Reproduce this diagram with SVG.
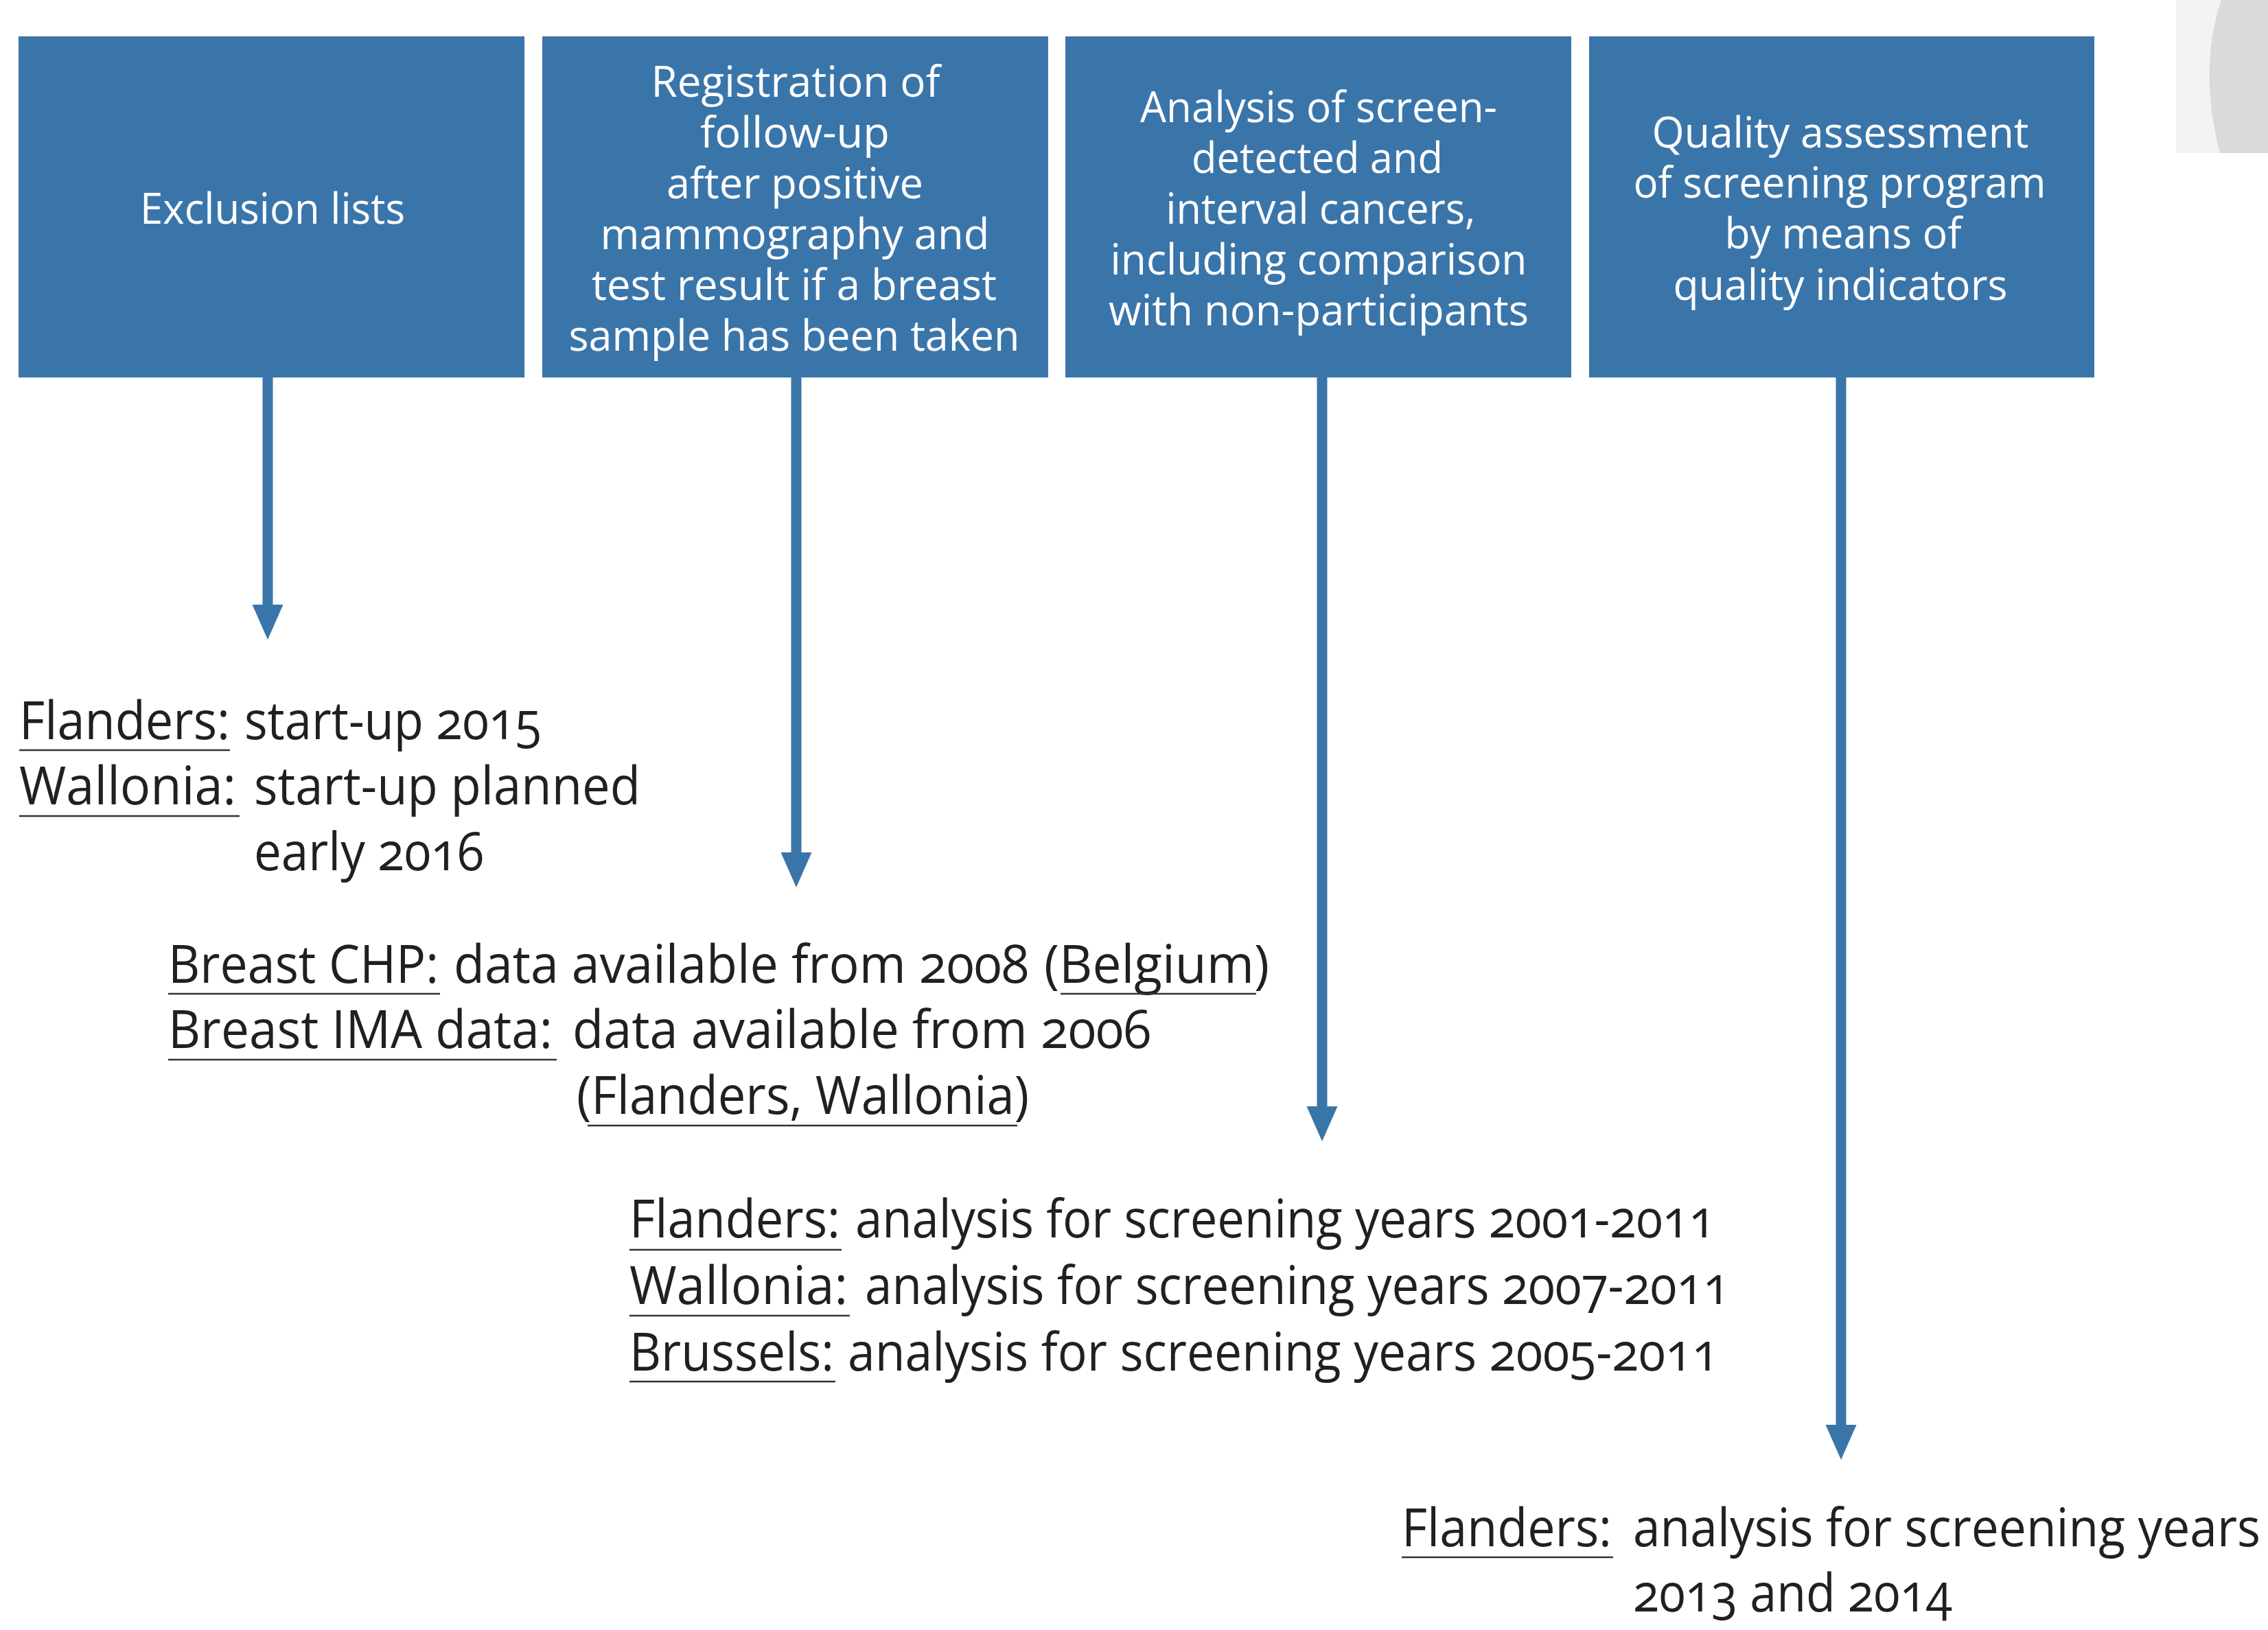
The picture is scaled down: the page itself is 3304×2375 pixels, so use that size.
<svg xmlns="http://www.w3.org/2000/svg" xmlns:xlink="http://www.w3.org/1999/xlink" width="3304" height="2375" viewBox="0 0 3304 2375">
<style>
.box{fill:#3a75aa}
.bt{font-family:"Open Sans","Noto Sans","Liberation Sans",sans-serif;font-size:63px;fill:#ffffff;text-anchor:middle}
.tx{font-family:"Open Sans","Noto Sans","Liberation Sans",sans-serif;font-size:77px;fill:#231f20;font-variant-numeric:oldstyle-nums;font-feature-settings:"onum" 1}
.ul{stroke:#333333;stroke-width:2.5}
.conn{stroke:#3a75aa;stroke-width:15;fill:none}
.head{fill:#3a75aa}
</style>
<defs>
<path id="ah" d="M-22.5,0 L22.5,0 L0,51 Z"/>
<linearGradient id="gr" x1="0" y1="0" x2="1" y2="0">
<stop offset="0" stop-color="#f4f5f5"/>
<stop offset="0.35" stop-color="#eceded"/>
<stop offset="0.45" stop-color="#d9dada"/>
<stop offset="1" stop-color="#d8d9d9"/>
</linearGradient>
</defs>
<rect width="3304" height="2375" fill="#ffffff"/>
<g id="corner-shape">
<rect x="3170" y="0" width="134" height="223" fill="#f2f3f3"/>
<path d="M3236,0 C3222,40 3216,90 3220,140 C3223,180 3230,205 3234,223 L3304,223 L3304,0 Z" fill="#d9dada"/>
</g>
<g id="connectors">
<line class="conn" x1="390" y1="550" x2="390" y2="883"/>
<use xlink:href="#ah" class="head" transform="translate(390,881)"/>
<line class="conn" x1="1160" y1="550" x2="1160" y2="1244"/>
<use xlink:href="#ah" class="head" transform="translate(1160,1242)"/>
<line class="conn" x1="1926" y1="550" x2="1926" y2="1614"/>
<use xlink:href="#ah" class="head" transform="translate(1926,1612)"/>
<line class="conn" x1="2682" y1="550" x2="2682" y2="2078"/>
<use xlink:href="#ah" class="head" transform="translate(2682,2076)"/>
</g>
<g id="node-exclusion">
<rect class="box" x="27" y="53" width="737" height="497"/>
<text class="bt" x="397" y="326" textLength="386" lengthAdjust="spacingAndGlyphs">Exclusion lists</text>
</g>
<g id="node-registration">
<rect class="box" x="790" y="53" width="737" height="497"/>
<text class="bt" x="1159" y="141" textLength="421" lengthAdjust="spacingAndGlyphs">Registration of</text>
<text class="bt" x="1158" y="215" textLength="276" lengthAdjust="spacingAndGlyphs">follow-up</text>
<text class="bt" x="1158" y="289" textLength="374" lengthAdjust="spacingAndGlyphs">after positive</text>
<text class="bt" x="1158" y="363" textLength="567" lengthAdjust="spacingAndGlyphs">mammography and</text>
<text class="bt" x="1157" y="437" textLength="590" lengthAdjust="spacingAndGlyphs">test result if a breast</text>
<text class="bt" x="1157" y="511" textLength="657" lengthAdjust="spacingAndGlyphs">sample has been taken</text>
</g>
<g id="node-analysis">
<rect class="box" x="1552" y="53" width="737" height="497"/>
<text class="bt" x="1921" y="178" textLength="520" lengthAdjust="spacingAndGlyphs">Analysis of screen-</text>
<text class="bt" x="1919" y="252" textLength="366" lengthAdjust="spacingAndGlyphs">detected and</text>
<text class="bt" x="1924" y="326" textLength="451" lengthAdjust="spacingAndGlyphs">interval cancers,</text>
<text class="bt" x="1921" y="400" textLength="607" lengthAdjust="spacingAndGlyphs">including comparison</text>
<text class="bt" x="1921" y="474" textLength="612" lengthAdjust="spacingAndGlyphs">with non-participants</text>
</g>
<g id="node-quality">
<rect class="box" x="2315" y="53" width="736" height="497"/>
<text class="bt" x="2681" y="215" textLength="549" lengthAdjust="spacingAndGlyphs">Quality assessment</text>
<text class="bt" x="2680" y="288" textLength="601" lengthAdjust="spacingAndGlyphs">of screening program</text>
<text class="bt" x="2685" y="362" textLength="345" lengthAdjust="spacingAndGlyphs">by means of</text>
<text class="bt" x="2681" y="437" textLength="487" lengthAdjust="spacingAndGlyphs">quality indicators</text>
</g>
<g id="text-exclusion">
<text class="tx" x="28" y="1077" textLength="307" lengthAdjust="spacingAndGlyphs">Flanders:</text>
<text class="tx" x="356" y="1077" textLength="433" lengthAdjust="spacingAndGlyphs">start-up 2015</text>
<text class="tx" x="28" y="1172" textLength="316" lengthAdjust="spacingAndGlyphs">Wallonia:</text>
<text class="tx" x="370" y="1172" textLength="563" lengthAdjust="spacingAndGlyphs">start-up planned</text>
<text class="tx" x="370" y="1268" textLength="335" lengthAdjust="spacingAndGlyphs">early 2016</text>
<line class="ul" x1="28" y1="1093" x2="335" y2="1093"/>
<line class="ul" x1="28" y1="1189" x2="349" y2="1189"/>
</g>
<g id="text-registration">
<text class="tx" x="245" y="1432" textLength="394" lengthAdjust="spacingAndGlyphs">Breast CHP:</text>
<text class="tx" x="661" y="1432" textLength="838" lengthAdjust="spacingAndGlyphs">data available from 2008</text>
<text class="tx" x="1521" y="1432" textLength="328" lengthAdjust="spacingAndGlyphs">(Belgium)</text>
<text class="tx" x="245" y="1527" textLength="560" lengthAdjust="spacingAndGlyphs">Breast IMA data:</text>
<text class="tx" x="834" y="1527" textLength="843" lengthAdjust="spacingAndGlyphs">data available from 2006</text>
<text class="tx" x="840" y="1623" textLength="659" lengthAdjust="spacingAndGlyphs">(Flanders, Wallonia)</text>
<line class="ul" x1="245" y1="1448" x2="641" y2="1448"/>
<line class="ul" x1="1545" y1="1448" x2="1830" y2="1448"/>
<line class="ul" x1="245" y1="1544" x2="811" y2="1544"/>
<line class="ul" x1="856" y1="1640" x2="1482" y2="1640"/>
</g>
<g id="text-analysis">
<text class="tx" x="917" y="1803" textLength="307" lengthAdjust="spacingAndGlyphs">Flanders:</text>
<text class="tx" x="1246" y="1803" textLength="1253" lengthAdjust="spacingAndGlyphs">analysis for screening years 2001-2011</text>
<text class="tx" x="917" y="1900" textLength="318" lengthAdjust="spacingAndGlyphs">Wallonia:</text>
<text class="tx" x="1260" y="1900" textLength="1260" lengthAdjust="spacingAndGlyphs">analysis for screening years 2007-2011</text>
<text class="tx" x="917" y="1997" textLength="298" lengthAdjust="spacingAndGlyphs">Brussels:</text>
<text class="tx" x="1235" y="1997" textLength="1269" lengthAdjust="spacingAndGlyphs">analysis for screening years 2005-2011</text>
<line class="ul" x1="917" y1="1821" x2="1226" y2="1821"/>
<line class="ul" x1="917" y1="1917" x2="1238" y2="1917"/>
<line class="ul" x1="917" y1="2013" x2="1217" y2="2013"/>
</g>
<g id="text-quality">
<text class="tx" x="2042" y="2253" textLength="306" lengthAdjust="spacingAndGlyphs">Flanders:</text>
<text class="tx" x="2379" y="2253" textLength="914" lengthAdjust="spacingAndGlyphs">analysis for screening years</text>
<text class="tx" x="2379" y="2348" textLength="465" lengthAdjust="spacingAndGlyphs">2013 and 2014</text>
<line class="ul" x1="2042" y1="2269" x2="2350" y2="2269"/>
</g>
</svg>
